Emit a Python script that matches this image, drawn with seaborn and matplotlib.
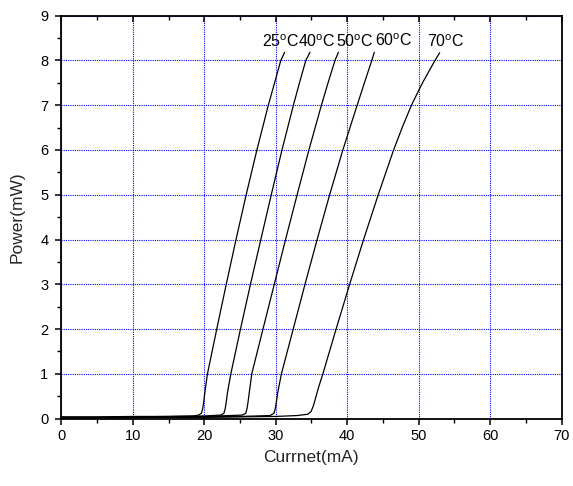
import numpy as np
import pandas as pd
import matplotlib
matplotlib.use("Agg")
import matplotlib.pyplot as plt
import seaborn as sns
from matplotlib.ticker import MultipleLocator

# Data
temps = ["25", "40", "50", "60", "70"]

i_25 = [0, 5, 10, 15, 18.5, 19.2, 19.6, 19.78, 19.92, 20.08, 20.45, 21.75, 23.08, 24.45, 25.87, 27.37, 28.97, 29.85, 30.72, 31.25]
p_25 = [0.04, 0.04, 0.05, 0.05, 0.06, 0.08, 0.12, 0.22, 0.36, 0.58, 1.0, 2.0, 3.0, 4.0, 5.0, 6.0, 7.0, 7.5, 8.0, 8.18]

i_40 = [0, 5, 10, 15, 20, 22.3, 22.75, 22.93, 23.07, 23.25, 23.72, 25.07, 26.47, 27.92, 29.38, 30.88, 32.48, 33.33, 34.22, 34.8]
p_40 = [0.03, 0.03, 0.04, 0.05, 0.06, 0.08, 0.12, 0.22, 0.36, 0.58, 1.0, 2.0, 3.0, 4.0, 5.0, 6.0, 7.0, 7.5, 8.0, 8.18]

i_50 = [0, 5, 10, 15, 20, 25.3, 25.8, 25.98, 26.12, 26.3, 26.65, 28.22, 29.8, 31.38, 33.0, 34.65, 36.4, 37.33, 38.3, 38.78]
p_50 = [0.03, 0.03, 0.03, 0.04, 0.05, 0.08, 0.12, 0.22, 0.36, 0.58, 1.0, 2.0, 3.0, 4.0, 5.0, 6.0, 7.0, 7.5, 8.0, 8.18]

i_60 = [0, 5, 10, 15, 20, 25, 29.2, 29.75, 29.94, 30.08, 30.28, 30.8, 32.45, 34.1, 35.8, 37.55, 39.4, 41.4, 42.42, 43.45, 43.8]
p_60 = [0.02, 0.02, 0.03, 0.03, 0.04, 0.05, 0.07, 0.12, 0.22, 0.36, 0.58, 1.0, 2.0, 3.0, 4.0, 5.0, 6.0, 7.0, 7.5, 8.0, 8.18]

i_70 = [0, 5, 10, 15, 20, 25, 30, 33.0, 34.5, 34.95, 35.3, 35.65, 36.0, 36.6, 38.45, 40.35, 42.3, 44.35, 46.5, 47.7, 49.0, 50.55, 52.3, 52.95]
p_70 = [0.02, 0.02, 0.02, 0.03, 0.03, 0.04, 0.05, 0.07, 0.1, 0.16, 0.3, 0.5, 0.7, 1.0, 2.0, 3.0, 4.0, 5.0, 6.0, 6.5, 7.0, 7.5, 8.0, 8.17]

label_x = [28.05, 33.1, 38.5, 43.9, 51.15]
label_y = [8.41, 8.41, 8.41, 8.43, 8.41]

x_ticks = [0, 10, 20, 30, 40, 50, 60, 70]
y_ticks = [0, 1, 2, 3, 4, 5, 6, 7, 8, 9]

currents = [i_25, i_40, i_50, i_60, i_70]
powers = [p_25, p_40, p_50, p_60, p_70]

frames = []
for t, cur, pw in zip(temps, currents, powers):
    frames.append(pd.DataFrame({"current": cur, "power": pw, "temp": t}))
df = pd.concat(frames, ignore_index=True)

sns.set_style("white")
plt.rcParams["font.family"] = ["Liberation Sans", "DejaVu Sans"]
plt.rcParams["mathtext.fontset"] = "custom"
plt.rcParams["mathtext.rm"] = "Liberation Sans"

fig = plt.figure(figsize=(5.73, 4.86), dpi=100)
ax = fig.add_axes([0.107, 0.1385, 0.873, 0.8295])

sns.lineplot(data=df, x="current", y="power", hue="temp",
             palette=["black"] * len(temps), estimator=None, sort=False,
             legend=False, linewidth=0.9, ax=ax)

ax.set_xlim(0, 70)
ax.set_ylim(0, 9)
ax.set_xticks(x_ticks)
ax.set_yticks(y_ticks)
ax.xaxis.set_minor_locator(MultipleLocator(5))
ax.yaxis.set_minor_locator(MultipleLocator(0.5))

ax.grid(True, which="major", color="#0000ff", linestyle=(0, (1, 1)), linewidth=0.8)
ax.set_axisbelow(True)

for s in ax.spines.values():
    s.set_visible(True)
    s.set_color("black")
    s.set_linewidth(1.3)

ax.tick_params(axis="x", which="both", bottom=True, top=True, direction="out",
               labelsize=10.5, colors="black", pad=3)
ax.tick_params(axis="y", which="both", left=True, right=False, direction="out",
               labelsize=10.5, colors="black", pad=5)
ax.tick_params(which="major", length=4.3, width=1.1)
ax.tick_params(which="minor", length=3, width=1.0)
# top ticks point inward
for tk in ax.xaxis.get_major_ticks() + ax.xaxis.get_minor_ticks():
    tk.tick2line.set_marker(matplotlib.lines.TICKDOWN)

ax.set_xlabel("Currnet(mA)", fontsize=12.5, labelpad=5)
ax.set_ylabel("Power(mW)", fontsize=12.5, labelpad=11)

for t, lx, ly in zip(temps, label_x, label_y):
    ax.text(lx, ly, t + r"$^\mathrm{o}$C", fontsize=11.5, ha="left", va="center",
            color="black")

fig.savefig("out.png", dpi=100)
